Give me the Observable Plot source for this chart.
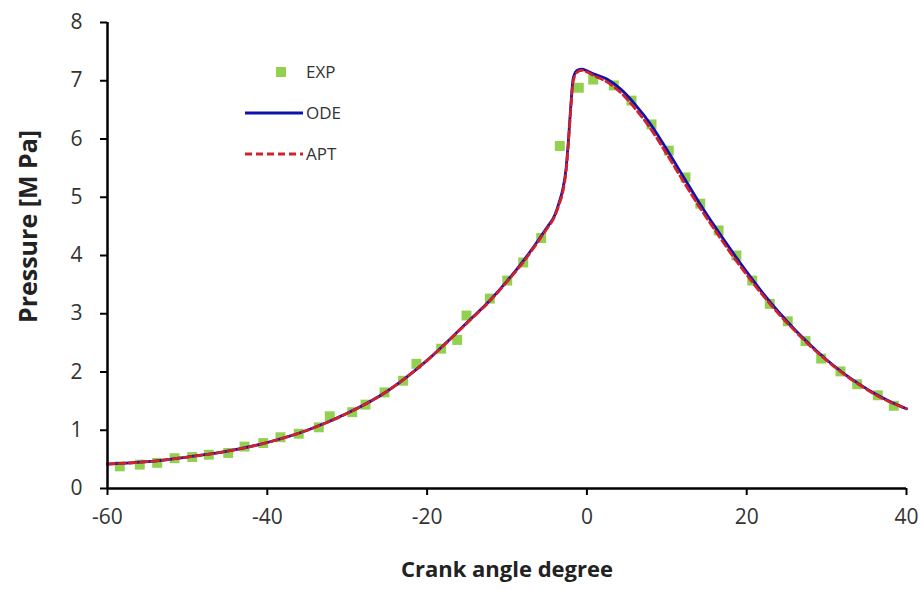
<!DOCTYPE html>
<html>
<head>
<meta charset="utf-8">
<script src="https://cdn.jsdelivr.net/npm/d3@7"></script>
<script src="https://cdn.jsdelivr.net/npm/@observablehq/plot@0.6"></script>
<style>
  html, body { margin: 0; padding: 0; background: #fff; }
  #chart { position: relative; width: 922px; height: 590px; }
  #legend { position: absolute; left: 240px; top: 51px; font-family: "Open Sans", sans-serif; font-size: 17px; color: #333; }
  #legend .row { display: flex; align-items: center; height: 41px; }
  #legend svg { display: block; margin-right: 3px; }
</style>
</head>
<body>
<div id="chart"></div>
<script>
// Experimental pressure trace (crank angle in degrees, pressure in MPa)
const expAngle = [-58.46, -55.96, -53.78, -51.61, -49.40, -47.32, -44.89, -42.85, -40.51, -38.35,
  -36.06, -33.55, -32.18, -29.37, -27.71, -25.33, -23.0, -21.33, -18.24, -16.23,
  -15.07, -12.15, -9.97, -7.97, -5.72, -3.39, -1.01, 0.79, 3.37, 5.58,
  8.09, 10.25, 12.34, 14.19, 16.49, 18.71, 20.69, 22.89, 25.14, 27.36,
  29.32, 31.74, 33.83, 36.41, 38.41];
const expPressure = [0.38, 0.41, 0.44, 0.52, 0.54, 0.58, 0.61, 0.72, 0.78, 0.88,
  0.94, 1.05, 1.24, 1.31, 1.44, 1.65, 1.85, 2.14, 2.40, 2.55,
  2.97, 3.26, 3.57, 3.88, 4.30, 5.88, 6.88, 7.02, 6.92, 6.66,
  6.25, 5.80, 5.34, 4.89, 4.43, 4.00, 3.57, 3.17, 2.87, 2.53,
  2.23, 2.01, 1.79, 1.60, 1.42];

// Model curves sampled on a shared crank-angle grid
const modelAngle = [-60, -55, -50, -45, -40, -35, -30, -25, -20, -15, -12, -10, -8, -6, -5, -4,
  -3.5, -3, -2.6, -2.3, -2, -1.7, -1.2, -0.6, 0, 0.8, 2.5, 4.2, 6, 8,
  10, 12, 14, 16, 18, 20, 22, 24, 26, 28, 30, 32, 34, 36, 38, 40];
const odePressure = [0.42, 0.46, 0.54, 0.64, 0.79, 1.0, 1.29, 1.67, 2.2, 2.85, 3.25, 3.56, 3.9, 4.28, 4.48, 4.70,
  4.9, 5.15, 5.5, 6.0, 6.6, 7.05, 7.18, 7.2, 7.17, 7.12, 7.03, 6.86, 6.6, 6.25,
  5.82, 5.37, 4.92, 4.5, 4.1, 3.72, 3.36, 3.03, 2.73, 2.46, 2.21, 1.99, 1.8, 1.63, 1.49, 1.37];
const aptPressure = [0.42, 0.46, 0.54, 0.64, 0.79, 1.0, 1.29, 1.67, 2.2, 2.84, 3.24, 3.55, 3.88, 4.26, 4.46, 4.68,
  4.87, 5.1, 5.45, 5.95, 6.55, 7.0, 7.15, 7.18, 7.15, 7.09, 6.98, 6.8, 6.53, 6.17,
  5.74, 5.29, 4.85, 4.44, 4.04, 3.67, 3.32, 3.0, 2.71, 2.44, 2.2, 1.98, 1.79, 1.62, 1.48, 1.37];

const xTicks = [-60, -40, -20, 0, 20, 40];
const yTicks = [0, 1, 2, 3, 4, 5, 6, 7, 8];

const seriesNames = ["EXP", "ODE", "APT"];
const colors = { EXP: "#92d050", ODE: "#1010b0", APT: "#d42028" };

const expData = expAngle.map((a, i) => ({ angle: a, p: expPressure[i] }));
const odeData = modelAngle.map((a, i) => ({ angle: a, p: odePressure[i] }));
const aptData = modelAngle.map((a, i) => ({ angle: a, p: aptPressure[i] }));

const font = "'Open Sans', sans-serif";
const plain = d => String(d); // hyphen-minus, no trailing decimals

const chart = Plot.plot({
  width: 922,
  height: 590,
  marginLeft: 107,
  marginRight: 16,
  marginTop: 22,
  marginBottom: 102,
  style: { fontFamily: font, background: "#fff" },
  x: { domain: [-60, 40] },
  y: { domain: [0, 8] },
  marks: [
    Plot.axisY(yTicks, {
      tickSize: 7, tickPadding: 18, strokeWidth: 2, stroke: "#000",
      fontSize: 21, fill: "#333", label: null, tickFormat: plain
    }),
    Plot.axisX(xTicks, {
      tickSize: 7, tickPadding: 14, strokeWidth: 2, stroke: "#000",
      fontSize: 21, fill: "#333", label: null, tickFormat: plain
    }),
    Plot.dot(expData, {
      x: "angle", y: "p", symbol: "square", r: 5.6,
      fill: colors.EXP, stroke: "none"
    }),
    Plot.line(odeData, {
      x: "angle", y: "p", stroke: colors.ODE, strokeWidth: 2.8, curve: "monotone-x"
    }),
    Plot.line(aptData, {
      x: "angle", y: "p", stroke: colors.APT, strokeWidth: 2.8,
      strokeDasharray: "7,4", curve: "monotone-x"
    }),
    Plot.ruleX([-60], { stroke: "#000", strokeWidth: 2.5 }),
    Plot.ruleY([0], { stroke: "#000", strokeWidth: 2.5 }),
    Plot.text(["Crank angle degree"], {
      frameAnchor: "bottom", dy: 88, fontSize: 22, fontWeight: "bold", fill: "#222"
    }),
    Plot.text(["Pressure [M Pa]"], {
      frameAnchor: "left", textAnchor: "middle", dx: -79, dy: -29, rotate: -90,
      fontSize: 25, fontWeight: "bold", fill: "#222"
    })
  ]
});

const host = document.getElementById("chart");
host.appendChild(chart);

// Legend: swatch + label per series
const legend = document.createElement("div");
legend.id = "legend";
for (const name of seriesNames) {
  const row = document.createElement("div");
  row.className = "row";
  const svg = d3.create("svg").attr("width", 63).attr("height", 20);
  if (name === "EXP") {
    svg.append("rect").attr("x", 36).attr("y", 5).attr("width", 10).attr("height", 10).attr("fill", colors.EXP);
  } else {
    svg.append("line").attr("x1", 5).attr("x2", 63).attr("y1", 10).attr("y2", 10)
      .attr("stroke", colors[name]).attr("stroke-width", 2.8)
      .attr("stroke-dasharray", name === "APT" ? "7,4" : null);
  }
  row.appendChild(svg.node());
  const label = document.createElement("span");
  label.textContent = name;
  row.appendChild(label);
  legend.appendChild(row);
}
host.appendChild(legend);
</script>
</body>
</html>
